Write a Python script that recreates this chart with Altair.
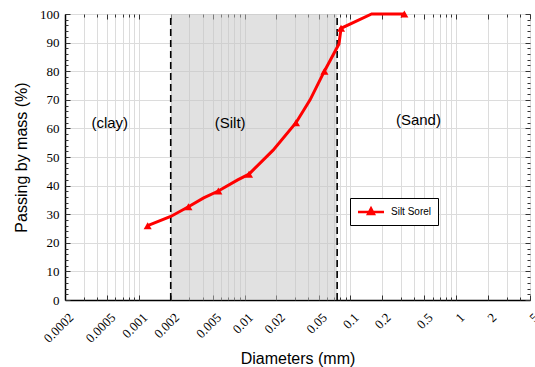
import altair as alt
import pandas as pd

# grain-size curve (line vertices) and which vertices carry a marker
diam = [0.00121, 0.002, 0.00294, 0.0041, 0.00564, 0.0086, 0.011, 0.0186, 0.0306,
        0.0416, 0.0568, 0.078, 0.0816, 0.159, 0.324]
passing = [26, 29.2, 32.6, 35.7, 38.1, 42, 44, 52.4, 62, 70, 80, 89.5, 95, 100, 100]
marker = [1, 0, 1, 0, 1, 0, 1, 0, 1, 0, 1, 0, 1, 0, 1]
series = "Silt Sorel"

# soil class boundaries (mm)
bounds = [0.002, 0.075]
region_names = ["(clay)", "(Silt)", "(Sand)"]
region_x = [0.00053, 0.0073, 0.44]
region_y = [62, 62, 63]

x_domain = [0.0002, 5]
tick_labels = [0.0002, 0.0005, 0.001, 0.002, 0.005, 0.01, 0.02, 0.05, 0.1, 0.2, 0.5, 1, 2, 5]
grid_vals = []
for e in range(-4, 1):
    for m in range(1, 10):
        v = float(f"{m}e{e}")
        if x_domain[0] <= v <= x_domain[1]:
            grid_vals.append(v)
y_vals = list(range(0, 101, 10))
y_minor = list(range(0, 101, 2))

curve = pd.DataFrame({"d": diam, "p": passing, "m": marker, "s": series})
pts = curve[curve.m == 1]
silt = pd.DataFrame({"d": [bounds[0]], "d2": [bounds[1]], "p": [0], "p2": [100]})
rules = pd.DataFrame({"d": bounds, "p": [0, 0], "p2": [100, 100]})
regions = pd.DataFrame({"d": region_x, "p": region_y, "t": region_names})

W, H = 465, 286
label_list = ",".join(repr(v) for v in tick_labels)
xscale = alt.Scale(type="log", domain=x_domain, nice=False)
yscale = alt.Scale(domain=[0, 100], nice=False)
xaxis = alt.Axis(values=grid_vals, format="~g",
                 labelExpr=f"indexof([{label_list}], datum.value) >= 0 ? datum.label : ''",
                 title="Diameters (mm)", labelAngle=-45, labelAlign="right",
                 labelBaseline="middle", labelPadding=15, labelOffset=6,
                 labelFont="Liberation Serif", labelFontSize=13, labelColor="black",
                 titleFont="Liberation Sans", titleFontSize=16, titleFontWeight="normal",
                 titleColor="black", titlePadding=5,
                 ticks=False, domainColor="black", domainWidth=1.5,
                 grid=True, gridColor="#dcdcdc", gridWidth=1, labelOverlap=False,
                 labelFlush=False, labelBound=False)
yaxis = alt.Axis(values=y_vals, title="Passing by mass (%)", labelOverlap=False,
                 labelFont="Liberation Serif", labelFontSize=13, labelColor="black",
                 labelPadding=6, titleFont="Liberation Sans", titleFontSize=16,
                 titleFontWeight="normal", titleColor="black", titlePadding=10,
                 ticks=False, domainColor="black", domainWidth=1.5,
                 grid=True, gridColor="#dcdcdc", gridWidth=1)

decade_test = f"indexof([{label_list}], datum.value) >= 0"


def inner_x(orient):
    return alt.Axis(orient=orient, offset=-H, values=grid_vals, labels=False, title=None,
                    domain=False, grid=False, ticks=True, tickColor="#333", tickWidth=1,
                    tickSize={"condition": {"test": decade_test, "value": 5}, "value": 3})


def inner_y(orient):
    return alt.Axis(orient=orient, offset=-W, values=y_minor, labels=False, title=None,
                    domain=False, grid=False, ticks=True, tickColor="#333", tickWidth=1,
                    tickSize={"condition": {"test": "datum.value % 10 === 0", "value": 5},
                              "value": 3})


X = alt.X("d:Q", scale=xscale, axis=xaxis)
Y = alt.Y("p:Q", scale=yscale, axis=yaxis)

shade = alt.Chart(silt).mark_rect(fill="#c4c4c4", opacity=0.5).encode(
    x=X, x2="d2:Q", y=Y, y2="p2:Q")

dash = alt.Chart(rules).mark_rule(color="black", strokeDash=[7, 4], strokeWidth=1.6).encode(
    x=alt.X("d:Q", scale=xscale, axis=inner_x("top")),
    y=alt.Y("p:Q", scale=yscale, axis=inner_y("right")), y2="p2:Q")

line = alt.Chart(curve).mark_line(color="#ff0000", strokeWidth=3).encode(
    x=alt.X("d:Q", scale=xscale, axis=inner_x("bottom")),
    y=alt.Y("p:Q", scale=yscale, axis=inner_y("left")), order="d:Q")

legend = alt.Legend(title=None, orient="none", legendX=285, legendY=184,
                    symbolType="M-2,0L2,0M0,-0.55L0.45,0.3L-0.45,0.3Z",
                    symbolSize=169, symbolStrokeColor="#ff0000", symbolFillColor="white",
                    symbolStrokeWidth=2.5, symbolOffset=7,
                    labelFont="Liberation Sans", labelFontSize=10, labelColor="black",
                    labelOffset=12, padding=6, strokeColor="black", fillColor="white")
points = alt.Chart(pts).mark_point(shape="triangle-up", filled=True, size=65, opacity=1).encode(
    x=alt.X("d:Q", scale=xscale, axis=None), y=alt.Y("p:Q", scale=yscale, axis=None),
    color=alt.Color("s:N", scale=alt.Scale(domain=[series], range=["#ff0000"]), legend=legend))

texts = alt.Chart(regions).mark_text(font="Liberation Sans", fontSize=15, color="black").encode(
    x=alt.X("d:Q", scale=xscale, axis=None), y=alt.Y("p:Q", scale=yscale, axis=None),
    text="t:N")

chart = alt.layer(shade, dash, line, points, texts).resolve_axis(
    x="independent", y="independent"
).properties(
    width=W, height=H,
    autosize=alt.AutoSizeParams(type="none"),
    padding={"left": 65, "top": 14, "right": 5, "bottom": 67},
    background="white",
).configure_view(stroke="#444", strokeWidth=1)

chart.save("out.html", embed_options={"renderer": "svg", "actions": False})
